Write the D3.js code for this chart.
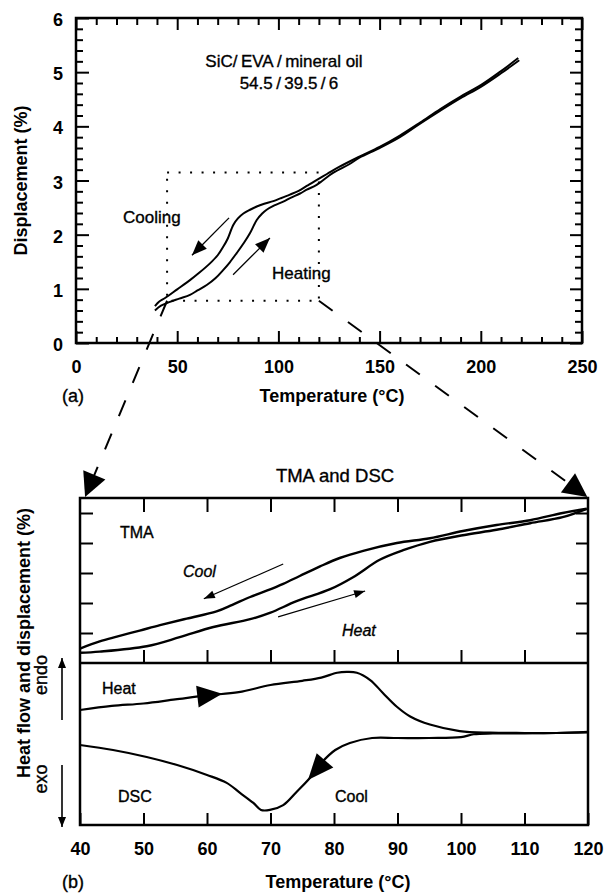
<!DOCTYPE html>
<html><head><meta charset="utf-8">
<script src="https://cdn.jsdelivr.net/npm/d3@7"></script>
<style>
body{margin:0;background:#fff}
svg{display:block}
text{font-family:"Liberation Sans",Arial,Helvetica,sans-serif;fill:#000}
</style>
</head><body>
<svg id="c" width="604" height="894"></svg>
<script>
// ---------------- DATA ----------------
// (a) TMA overview
const tickTempA = [0, 50, 100, 150, 200, 250];
const tickDispA = [0, 1, 2, 3, 4, 5, 6];
const coolTempA = [39, 41, 44, 50, 56.3, 61, 66.2, 70, 72.8, 75, 77.7, 80, 82.7, 86, 89.3, 93, 97.5, 101, 105.7, 110, 114, 118, 124, 130, 140, 150, 160, 170, 180, 190, 200, 210, 218.5];
const coolDispA = [0.68, 0.76, 0.83, 0.99, 1.16, 1.3, 1.47, 1.62, 1.78, 1.93, 2.18, 2.3, 2.39, 2.46, 2.52, 2.57, 2.62, 2.67, 2.74, 2.81, 2.9, 2.99, 3.12, 3.25, 3.44, 3.62, 3.83, 4.07, 4.32, 4.55, 4.76, 5.02, 5.26];
const heatTempA = [39, 42, 46.4, 51, 56.3, 60, 64.6, 69, 72.8, 76, 79.4, 83, 86, 89.3, 92, 94.2, 98, 102.4, 106, 110.7, 114, 118.9, 127, 135, 140, 150, 160, 170, 180, 190, 200, 210, 219];
const heatDispA = [0.6, 0.69, 0.76, 0.82, 0.89, 0.97, 1.07, 1.2, 1.35, 1.49, 1.66, 1.85, 2.03, 2.27, 2.39, 2.46, 2.54, 2.61, 2.68, 2.76, 2.83, 2.92, 3.14, 3.3, 3.42, 3.6, 3.8, 4.05, 4.29, 4.52, 4.73, 4.98, 5.22];
const zoomBoxTemp = [45, 120];
const zoomBoxDisp = [0.78, 3.15];

// (b) TMA and DSC detail
const tickTempB = [40, 50, 60, 70, 80, 90, 100, 110, 120];
const tickTMA = [1, 1.5, 2, 2.5, 3];
const coolTempTMA = [40, 43.1, 45.8, 49.4, 52.6, 56.8, 61.5, 64, 66.8, 69.5, 72, 74.6, 77.8, 80.9, 84.6, 89.9, 95.1, 100.3, 105.6, 110.9, 116, 119.8];
const coolValTMA  = [0.74, 0.86, 0.94, 1.04, 1.13, 1.24, 1.36, 1.47, 1.6, 1.71, 1.82, 1.95, 2.11, 2.25, 2.37, 2.5, 2.58, 2.7, 2.8, 2.88, 3.0, 3.07];
const heatTempTMA = [40, 43.1, 50.5, 55.7, 61, 66.8, 70, 74.1, 79.4, 83, 87.2, 90.9, 95.1, 100.3, 105.6, 110.9, 116, 119.8];
const heatValTMA  = [0.67, 0.69, 0.78, 0.93, 1.1, 1.23, 1.34, 1.53, 1.73, 1.93, 2.22, 2.38, 2.52, 2.63, 2.72, 2.83, 2.93, 3.07];
const heatTempDSC = [40, 45, 50, 55, 60, 65, 70, 75, 78, 80.5, 82, 83.6, 85.7, 87.7, 89.9, 92, 95.1, 99.8, 104.6, 110, 115, 120];
const heatValDSC  = [7.1, 7.35, 7.5, 7.75, 8.0, 8.2, 8.64, 8.9, 9.1, 9.4, 9.45, 9.4, 8.95, 8.15, 7.3, 6.7, 6.2, 5.8, 5.7, 5.68, 5.68, 5.75];
const coolTempDSC = [40, 45.2, 50.5, 55.3, 60, 63.1, 65.2, 67.3, 68.5, 69.9, 72, 74.1, 76.2, 78, 80.2, 82.5, 86, 90, 95, 100, 102, 105, 110, 115, 120];
const coolValDSC  = [4.94, 4.63, 4.2, 3.7, 3.09, 2.6, 1.98, 1.36, 0.93, 0.93, 1.23, 2.04, 2.9, 3.83, 4.63, 5.06, 5.37, 5.37, 5.37, 5.42, 5.6, 5.65, 5.66, 5.68, 5.72];

// ---------------- SETUP ----------------
const svg = d3.select("#c");
const FONT = '"Liberation Sans",Arial,Helvetica,sans-serif';

const xA = d3.scaleLinear().domain([0, 250]).range([76, 582]);
const yA = d3.scaleLinear().domain([0, 6]).range([343, 18]);
const xB = d3.scaleLinear().domain([40, 120]).range([80, 588]);
const yT = d3.scaleLinear().domain([0.5, 3.25]).range([663, 498]);
const yD = d3.scaleLinear().domain([0, 10]).range([825, 663]);

function zip(a, b) { return a.map((t, i) => [t, b[i]]); }
function valAt(ts, vs, t) {
  let i = d3.bisectRight(ts, t);
  i = Math.max(1, Math.min(ts.length - 1, i));
  const f = (t - ts[i - 1]) / (ts[i] - ts[i - 1]);
  return vs[i - 1] + f * (vs[i] - vs[i - 1]);
}
function head(g, tip, from, len, halfW) {
  const dx = tip[0] - from[0], dy = tip[1] - from[1], L = Math.hypot(dx, dy);
  const ux = dx / L, uy = dy / L;
  const bx = tip[0] - ux * len, by = tip[1] - uy * len;
  g.append("path")
    .attr("d", `M${tip[0]},${tip[1]}L${bx - uy * halfW},${by + ux * halfW}L${bx + uy * halfW},${by - ux * halfW}Z`)
    .attr("fill", "#000");
}
function arrow(g, p0, p1, len, halfW, sw) {
  g.append("line").attr("x1", p0[0]).attr("y1", p0[1]).attr("x2", p1[0]).attr("y2", p1[1])
    .attr("stroke", "#000").attr("stroke-width", sw);
  head(g, p1, p0, len, halfW);
}
function styleAxis(g, sw) {
  g.select(".domain").remove();
  g.selectAll(".tick line").attr("stroke", "#000").attr("stroke-width", sw);
  g.selectAll("text").attr("font-family", FONT).attr("font-size", 18).attr("font-weight", "bold").attr("fill", "#000");
}
function txt(x, y, s, opt = {}) {
  const t = svg.append("text").attr("x", x).attr("y", y).text(s)
    .attr("font-size", opt.size || 17)
    .attr("font-weight", opt.weight || "normal")
    .attr("font-style", opt.style || "normal")
    .attr("text-anchor", opt.anchor || "start");
  if (!opt.weight) t.attr("stroke", "#000").attr("stroke-width", 0.35);
  if (opt.rotate) t.attr("transform", `rotate(${opt.rotate},${x},${y})`);
  return t;
}

// ---------------- (a) ----------------
const gA = svg.append("g");
const minorA_y = yA.ticks(30).filter(v => Math.abs(v - Math.round(v)) > 1e-6);
const minorA_x = xA.ticks(25).filter(v => v % 50 !== 0);

gA.append("g").attr("transform", `translate(${xA(0)},0)`)
  .call(d3.axisLeft(yA).tickValues(tickDispA).tickSize(-13).tickSizeOuter(0).tickPadding(13).tickFormat(d3.format("d")))
  .call(g => styleAxis(g, 2)).call(g => g.selectAll("text").attr("dy", "0.42em"));
gA.append("g").attr("transform", `translate(${xA(0)},0)`)
  .call(d3.axisLeft(yA).tickValues(minorA_y).tickSize(-7).tickSizeOuter(0).tickFormat(""))
  .call(g => styleAxis(g, 2));
gA.append("g").attr("transform", `translate(${xA(250)},0)`)
  .call(d3.axisRight(yA).tickValues(tickDispA).tickSize(-12).tickSizeOuter(0).tickFormat(""))
  .call(g => styleAxis(g, 2));
gA.append("g").attr("transform", `translate(${xA(250)},0)`)
  .call(d3.axisRight(yA).tickValues(minorA_y).tickSize(-7).tickSizeOuter(0).tickFormat(""))
  .call(g => styleAxis(g, 2));
gA.append("g").attr("transform", `translate(0,${yA(0)})`)
  .call(d3.axisBottom(xA).tickValues(tickTempA).tickSize(-12).tickSizeOuter(0).tickPadding(17).tickFormat(d3.format("d")))
  .call(g => styleAxis(g, 2));
gA.append("g").attr("transform", `translate(0,${yA(0)})`)
  .call(d3.axisBottom(xA).tickValues(minorA_x).tickSize(-6).tickSizeOuter(0).tickFormat(""))
  .call(g => styleAxis(g, 2));
gA.append("g").attr("transform", `translate(0,${yA(6)})`)
  .call(d3.axisTop(xA).tickValues(tickTempA).tickSize(-12).tickSizeOuter(0).tickFormat(""))
  .call(g => styleAxis(g, 2));
gA.append("g").attr("transform", `translate(0,${yA(6)})`)
  .call(d3.axisTop(xA).tickValues(minorA_x).tickSize(-7).tickSizeOuter(0).tickFormat(""))
  .call(g => styleAxis(g, 2));
gA.append("rect").attr("x", xA(0)).attr("y", yA(6)).attr("width", xA(250) - xA(0)).attr("height", yA(0) - yA(6))
  .attr("fill", "none").attr("stroke", "#000").attr("stroke-width", 2.5);

gA.append("rect").attr("x", xA(zoomBoxTemp[0])).attr("y", yA(zoomBoxDisp[1]))
  .attr("width", xA(zoomBoxTemp[1]) - xA(zoomBoxTemp[0])).attr("height", yA(zoomBoxDisp[0]) - yA(zoomBoxDisp[1]))
  .attr("fill", "none").attr("stroke", "#000").attr("stroke-width", 2).attr("stroke-dasharray", "2,9.5");

const lineA = d3.line().x(d => xA(d[0])).y(d => yA(d[1])).curve(d3.curveCatmullRom);
gA.append("path").attr("d", lineA(zip(coolTempA, coolDispA))).attr("fill", "none").attr("stroke", "#000").attr("stroke-width", 2);
gA.append("path").attr("d", lineA(zip(heatTempA, heatDispA))).attr("fill", "none").attr("stroke", "#000").attr("stroke-width", 2);

arrow(gA, [xA(75.6), yA(2.31)], [xA(57.3), yA(1.62)], 15, 6, 1.3);
arrow(gA, [xA(77.6), yA(1.26)], [xA(95.8), yA(1.94)], 15, 6, 1.3);

txt(284, 67, "SiC/\u2009EVA\u2009/\u2009mineral oil", {anchor: "middle", size: 17});
txt(289, 89, "54.5\u2009/\u200939.5\u2009/\u20096", {anchor: "middle", size: 17});
txt(123, 223, "Cooling", {size: 17});
txt(272, 279, "Heating", {size: 17});
txt(27, yA(3), "Displacement (%)", {anchor: "middle", size: 18, weight: "bold", rotate: -90});
txt(332, 402, "Temperature (\u00B0C)", {anchor: "middle", size: 18, weight: "bold"});
txt(62, 402, "(a)", {size: 18});

// ---------------- connectors ----------------
const gC = svg.append("g");
const tipL = [xB(40.8), yT(3.25) - 1];
const tipR = [xB(119.9), yT(3.25) - 1];
const startL = [xA(zoomBoxTemp[0]), yA(zoomBoxDisp[0])];
const startR = [xA(zoomBoxTemp[1]), yA(zoomBoxDisp[0])];
function dashed(p0, p1) {
  const dx = p1[0] - p0[0], dy = p1[1] - p0[1], L = Math.hypot(dx, dy);
  const end = [p1[0] - dx / L * 20, p1[1] - dy / L * 20];
  gC.append("line").attr("x1", p0[0]).attr("y1", p0[1]).attr("x2", end[0]).attr("y2", end[1])
    .attr("stroke", "#000").attr("stroke-width", 2).attr("stroke-dasharray", "17,19");
  head(gC, p1, p0, 24, 12);
}
dashed(startL, tipL);
dashed(startR, tipR);

// ---------------- (b) ----------------
const gB = svg.append("g");
const innerTicks = tickTempB.slice(1, -1);
gB.append("g").attr("transform", `translate(0,${yT(3.25)})`)
  .call(d3.axisTop(xB).tickValues(innerTicks).tickSize(-14).tickSizeOuter(0).tickFormat(""))
  .call(g => styleAxis(g, 2));
gB.append("g").attr("transform", `translate(0,${yT(0.5)})`)
  .call(d3.axisBottom(xB).tickValues(innerTicks).tickSize(-13).tickSizeOuter(0).tickFormat(""))
  .call(g => styleAxis(g, 2));
gB.append("g").attr("transform", `translate(0,${yD(0)})`)
  .call(d3.axisBottom(xB).tickValues(tickTempB).tickSize(-12).tickSizeOuter(0).tickPadding(17).tickFormat(d3.format("d")))
  .call(g => styleAxis(g, 2));
gB.append("g").attr("transform", `translate(${xB(40)},0)`)
  .call(d3.axisLeft(yT).tickValues(tickTMA).tickSize(-13).tickSizeOuter(0).tickFormat(""))
  .call(g => styleAxis(g, 2));
gB.append("g").attr("transform", `translate(${xB(120)},0)`)
  .call(d3.axisRight(yT).tickValues(tickTMA).tickSize(-12).tickSizeOuter(0).tickFormat(""))
  .call(g => styleAxis(g, 2));
gB.append("rect").attr("x", xB(40)).attr("y", yT(3.25)).attr("width", xB(120) - xB(40)).attr("height", yD(0) - yT(3.25))
  .attr("fill", "none").attr("stroke", "#000").attr("stroke-width", 2.5);
gB.append("line").attr("x1", xB(40)).attr("x2", xB(120)).attr("y1", yT(0.5)).attr("y2", yT(0.5))
  .attr("stroke", "#000").attr("stroke-width", 2.5);

const lineT = d3.line().x(d => xB(d[0])).y(d => yT(d[1])).curve(d3.curveCatmullRom);
const lineD = d3.line().x(d => xB(d[0])).y(d => yD(d[1])).curve(d3.curveCatmullRom);
gB.append("path").attr("d", lineT(zip(coolTempTMA, coolValTMA))).attr("fill", "none").attr("stroke", "#000").attr("stroke-width", 2.4);
gB.append("path").attr("d", lineT(zip(heatTempTMA, heatValTMA))).attr("fill", "none").attr("stroke", "#000").attr("stroke-width", 2.4);
gB.append("path").attr("d", lineD(zip(heatTempDSC, heatValDSC))).attr("fill", "none").attr("stroke", "#000").attr("stroke-width", 2.2);
gB.append("path").attr("d", lineD(zip(coolTempDSC, coolValDSC))).attr("fill", "none").attr("stroke", "#000").attr("stroke-width", 2.2);

arrow(gB, [xB(72), yT(2.15)], [xB(59.5), yT(1.57)], 11, 4, 1.2);
arrow(gB, [xB(71.2), yT(1.27)], [xB(84.9), yT(1.7)], 11, 4, 1.2);

head(gB, [xB(62.4), yD(valAt(heatTempDSC, heatValDSC, 62.4))], [xB(58), yD(valAt(heatTempDSC, heatValDSC, 58))], 25, 11);
head(gB, [xB(75.9), yD(valAt(coolTempDSC, coolValDSC, 75.9))], [xB(79.2), yD(valAt(coolTempDSC, coolValDSC, 79.2))], 26, 11);

arrow(gB, [62, 720], [62, 658], 10, 4, 1.6);
arrow(gB, [62, 765], [62, 827], 10, 4, 1.6);

txt(335, 482, "TMA and DSC", {anchor: "middle", size: 18.5});
txt(120, 538, "TMA", {size: 16});
txt(183, 577, "Cool", {size: 16, style: "italic"});
txt(342, 636, "Heat", {size: 16, style: "italic"});
txt(102, 694, "Heat", {size: 16});
txt(118, 802, "DSC", {size: 16});
txt(335, 802, "Cool", {size: 16});
txt(30, 643, "Heat flow and displacement (%)", {anchor: "middle", size: 18, weight: "bold", rotate: -90});
txt(47, 675, "endo", {anchor: "middle", size: 18, rotate: -90});
txt(47, 779, "exo", {anchor: "middle", size: 18, rotate: -90});
txt(62, 888, "(b)", {size: 18});
txt(338, 888, "Temperature (\u00B0C)", {anchor: "middle", size: 18, weight: "bold"});
</script>
</body></html>
